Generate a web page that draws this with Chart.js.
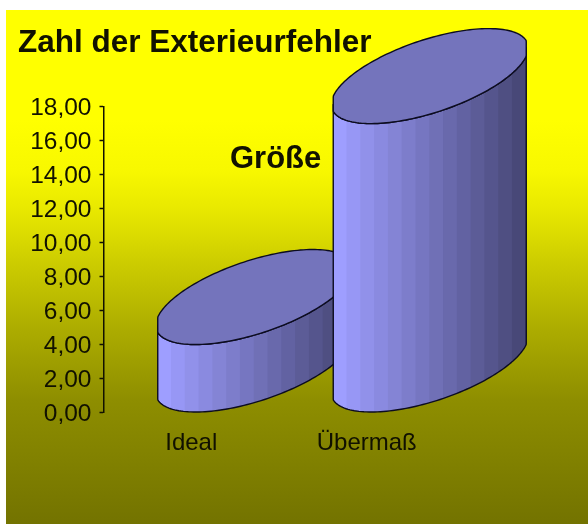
<!DOCTYPE html>
<html lang="de">
<head>
<meta charset="utf-8">
<title>Zahl der Exterieurfehler</title>
<script src="https://cdn.jsdelivr.net/npm/chart.js@4/dist/chart.umd.min.js"></script>
<style>html,body{margin:0;padding:0;background:#fff}canvas{display:block}</style>
</head>
<body>
<canvas id="c" width="588" height="524"></canvas>
<script>
const chartTitle = 'Zahl der Exterieurfehler';
const axisTitle = 'Größe';
const categories = ['Ideal', 'Übermaß'];
const values = [4, 17];

const FONT = '"Liberation Sans", Arial, sans-serif';
const INK = '#111100';

// Shape of the tilted cylinder, relative to the bar position given by the scales
const A = 96.5, A_FULL = 98.5, B = 47.5, SHIFT = 63, PHI = 126.6 * Math.PI / 180, BANDS = 14;

function pt(cx, cy, deg) {
  const t = deg * Math.PI / 180;
  const dx = Math.max(-A, Math.min(A, A_FULL * Math.cos(t)));
  return [cx + dx, cy + B * Math.cos(t - PHI)];
}
function arc(ctx, cx, cy, from, to) {
  const step = from < to ? 2 : -2;
  for (let d = from; step > 0 ? d <= to : d >= to; d += step) {
    const p = pt(cx, cy, d);
    ctx.lineTo(p[0], p[1]);
  }
}
function shade(f) {
  const mix = (a, b) => Math.round(a + (b - a) * f);
  return 'rgb(' + mix(158, 72) + ',' + mix(158, 72) + ',' + mix(255, 120) + ')';
}
function drawCylinder(ctx, el) {
  const cx = el.x + SHIFT;
  const topY = el.y - B, baseY = el.base - B;
  const left = cx - A, width = 2 * A;

  ctx.save();
  ctx.lineJoin = 'round';
  ctx.beginPath();
  arc(ctx, cx, baseY, 180, 0);
  arc(ctx, cx, topY, 0, 180);
  ctx.closePath();
  ctx.save();
  ctx.clip();
  for (let i = 0; i < BANDS; i++) {
    ctx.fillStyle = shade(i / (BANDS - 1));
    ctx.fillRect(left + width * i / BANDS - 0.5, topY - B, width / BANDS + 1, baseY - topY + 3 * B);
  }
  ctx.restore();
  ctx.strokeStyle = '#0c0c20';
  ctx.lineWidth = 1.4;
  ctx.stroke();

  ctx.beginPath();
  arc(ctx, cx, topY, 0, 360);
  ctx.closePath();
  ctx.fillStyle = '#7474bc';
  ctx.fill();
  ctx.stroke();
  ctx.restore();
}

const cylinderPlugin = {
  id: 'cylinders',
  beforeDraw(chart) {
    const ctx = chart.ctx;
    const g = ctx.createLinearGradient(0, 10, 0, 524);
    const stop = (y, v) => g.addColorStop((y - 10) / 514, 'rgb(' + v + ',' + v + ',0)');
    stop(10, 255); stop(120, 255); stop(170, 248); stop(210, 232); stop(262, 205); stop(330, 172); stop(400, 142); stop(524, 115);
    ctx.fillStyle = g;
    ctx.fillRect(6, 10, 582, 514);
  },
  beforeDatasetDraw(chart, args) {
    args.meta.data.forEach(el => drawCylinder(chart.ctx, el));
    return false;
  },
  afterDraw(chart) {
    const ctx = chart.ctx;
    ctx.save();
    ctx.font = 'bold 31px ' + FONT;
    ctx.fillStyle = INK;
    ctx.textAlign = 'left';
    ctx.textBaseline = 'middle';
    ctx.fillText(axisTitle, 230, 159);
    ctx.restore();
  }
};

function nudgeLabels(scale, dy) {
  if (scale._nudged) return;
  scale._nudged = true;
  const draw = scale.drawLabels;
  scale.drawLabels = function (area) {
    const ctx = this.ctx;
    ctx.save();
    ctx.translate(0, dy);
    draw.call(this, area);
    ctx.restore();
  };
}

new Chart(document.getElementById('c'), {
  type: 'bar',
  data: {
    labels: categories,
    datasets: [{ label: axisTitle, data: values, backgroundColor: '#9999ff', borderColor: '#000000' }]
  },
  options: {
    responsive: false,
    animation: false,
    events: [],
    layout: { padding: { left: 18, right: 133.5, top: 0, bottom: 0 } },
    plugins: {
      legend: { display: false },
      tooltip: { enabled: false },
      title: {
        display: true,
        text: chartTitle,
        align: 'start',
        color: INK,
        font: { family: FONT, size: 31.5, weight: 'bold', lineHeight: 1.2 },
        padding: { top: 24, bottom: 44.8 }
      }
    },
    scales: {
      x: {
        type: 'category',
        border: { display: false },
        grid: { display: false },
        ticks: { color: INK, font: { family: FONT, size: 24 }, padding: 8, maxRotation: 0 },
        afterFit(s) { s.height = 111.5; }
      },
      y: {
        type: 'linear',
        min: 0,
        max: 18,
        border: { display: true, color: '#111100', width: 1.5 },
        grid: { drawOnChartArea: false, drawTicks: true, tickLength: 4, tickColor: '#111100', tickWidth: 1.5 },
        ticks: {
          stepSize: 2,
          color: INK,
          padding: 8,
          font: { family: FONT, size: 24.5 },
          callback: v => v.toFixed(2).replace('.', ',')
        },
        afterFit(s) { s.width = 85.5; nudgeLabels(s, 1.5); }
      }
    }
  },
  plugins: [cylinderPlugin]
});
</script>
</body>
</html>
